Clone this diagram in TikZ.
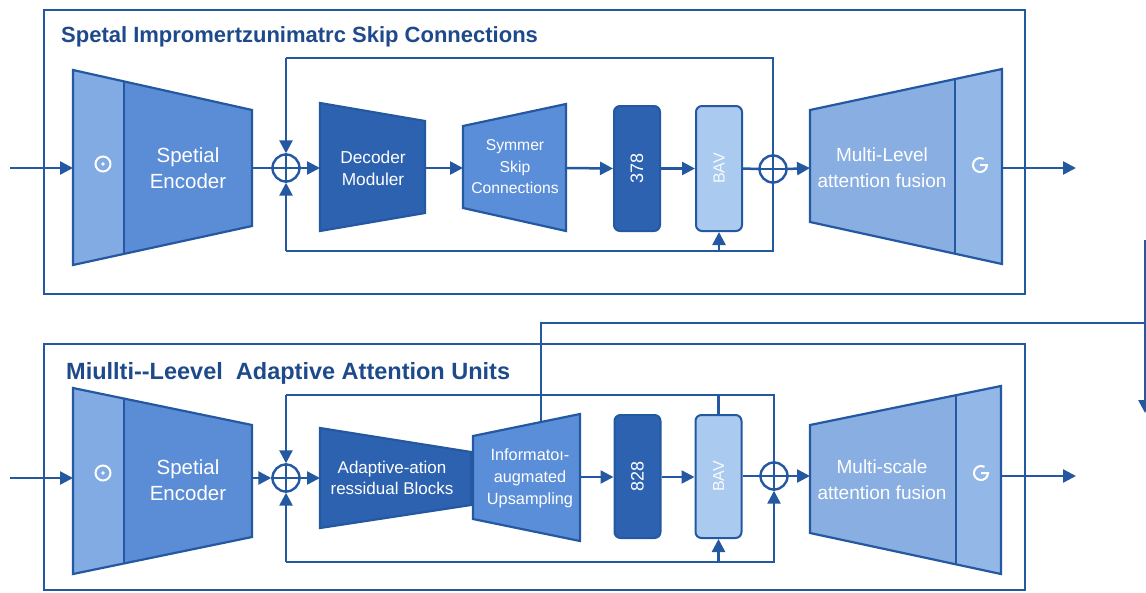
\documentclass[tikz,border=0pt]{standalone}
\usepackage{fontspec}
\setmainfont{Liberation Sans}
\usetikzlibrary{arrows.meta,calc}
\definecolor{ln}{HTML}{2458A0}
\definecolor{ttl}{HTML}{1E4A8C}
\definecolor{encM}{HTML}{5B8DD6}
\definecolor{encS}{HTML}{82AAE3}
\definecolor{dark}{HTML}{2D62B1}
\definecolor{mid}{HTML}{5A8ED8}
\definecolor{fus}{HTML}{88AEE2}
\definecolor{fusS}{HTML}{93B8E8}
\definecolor{light}{HTML}{AACAEF}
\tikzset{
  conn/.style={draw=ln, line width=2.5pt},
  arr/.style={conn, -{Triangle[length=13pt,width=13pt]}},
  shp/.style={draw=ln, line width=2.2pt, line join=miter},
  lbl/.style={text=white, align=center, inner sep=0pt},
  sumnode/.style={circle, draw=ln, line width=2.4pt, minimum size=27pt, inner sep=0pt},
  blk/.style={rounded corners=6pt, draw=ln, line width=2pt, minimum width=46pt, minimum height=125pt, inner sep=0pt},
  frame/.style={draw=ln, line width=2.2pt},
  ttlnode/.style={text=ttl, font=\bfseries\fontsize{22}{24}\selectfont, anchor=west, inner sep=0pt},
  icon/.style={draw=white, line width=2pt},
}
\begin{document}
\begin{tikzpicture}[x=1pt,y=-1pt]
\useasboundingbox[fill=white] (0,0) rectangle (1146,592);

% ================= frames =================
\draw[frame] (44,10) rectangle (1025,294);
\draw[frame] (44,344) rectangle (1025,590);
\node[ttlnode] (t1) at (61,37) {Spetal Impromertzunimatrc Skip Connections};
\node[ttlnode, font=\bfseries\fontsize{23.5}{26}\selectfont] (t2) at (66,373) {Miullti-{}-Leevel\ \ Adaptive Attention Units};

% ================= TOP ROW =================
\coordinate (e1a) at (73,70);  \coordinate (e1b) at (252,110);
\coordinate (e1c) at (252,226); \coordinate (e1d) at (73,265);
\fill[encS] (e1a) -- ($(e1a)!0.285!(e1b)$) -- ($(e1d)!0.285!(e1c)$) -- (e1d) -- cycle;
\fill[encM] ($(e1a)!0.285!(e1b)$) -- (e1b) -- (e1c) -- ($(e1d)!0.285!(e1c)$) -- cycle;
\draw[shp] (e1a) -- (e1b) -- (e1c) -- (e1d) -- cycle;
\draw[ln, line width=1.6pt] ($(e1a)!0.285!(e1b)$) -- ($(e1d)!0.285!(e1c)$);
\draw[icon] (103,164) circle (7.5);
\fill[white] (103,164) circle (1.8);
\node[lbl, font=\fontsize{20.5}{26}\selectfont] (enc1) at (188,168) {Spetial\\Encoder};
\coordinate (enc1W) at (73,168);
\coordinate (enc1E) at (252,168);

\draw[shp, fill=dark] (320,103) -- (425,121) -- (425,213) -- (320,231) -- cycle;
\node[lbl, font=\fontsize{17.3}{22}\selectfont] (dec1) at (373,168) {Decoder\\Moduler};
\coordinate (dec1W) at (320,168); \coordinate (dec1E) at (425,168);

\draw[shp, fill=mid] (463,126) -- (566,104) -- (566,231) -- (463,208) -- cycle;
\node[lbl, font=\fontsize{15.7}{21.5}\selectfont] (sym1) at (515,167) {Symmer\\Skip\\Connections};
\coordinate (sym1W) at (463,168); \coordinate (sym1E) at (566,168);

\node[blk, fill=dark] (b1) at (637,168.5) {};
\node[lbl, rotate=90, font=\fontsize{18}{20}\selectfont] at (b1) {378};
\node[blk, fill=light] (v1) at (719,168.5) {};
\node[lbl, rotate=90, text=white!92!light, font=\fontsize{16}{18}\selectfont] at (v1) {BAV};

\node[sumnode] (s1) at (286,168) {};
\node[sumnode] (s2) at (773,169) {};
\draw[conn] (s1.north) -- (s1.south) (s1.west) -- (s1.east);
\draw[conn] (s2.north) -- (s2.south) (s2.west) -- (s2.east);

\coordinate (f1a) at (810,110);  \coordinate (f1b) at (1002,69);
\coordinate (f1c) at (1002,264); \coordinate (f1d) at (810,222);
\fill[fus] (f1a) -- ($(f1a)!0.755!(f1b)$) -- ($(f1d)!0.755!(f1c)$) -- (f1d) -- cycle;
\fill[fusS] ($(f1a)!0.755!(f1b)$) -- (f1b) -- (f1c) -- ($(f1d)!0.755!(f1c)$) -- cycle;
\draw[shp] (f1a) -- (f1b) -- (f1c) -- (f1d) -- cycle;
\draw[ln, line width=1.6pt] ($(f1a)!0.755!(f1b)$) -- ($(f1d)!0.755!(f1c)$);
\draw[icon] (980,165) ++(-60:7) arc[start angle=-60, end angle=-360, radius=7] -- (980,165);
\node[lbl, font=\fontsize{19}{26}\selectfont] (fu1) at (882,168) {Multi-Level\\attention fusion};
\coordinate (fu1W) at (810,168); \coordinate (fu1E) at (1002,168);

\coordinate (in1) at (10,168);
\coordinate (out1) at (1076,168);
\coordinate (lt1) at (286,58);
\coordinate (lb1) at (286,251);
\draw[arr] (in1) -- (enc1W);
\draw[conn] (enc1E) -- (s1.west);
\draw[arr] (s1.east) -- (dec1W);
\draw[arr] (dec1E) -- (sym1W);
\draw[arr] (sym1E) -- (b1.west);
\draw[arr] (b1.east) -- (v1.west);
\draw[conn] (v1.east) -- (s2.west);
\draw[arr] (s2.east) -- (fu1W);
\draw[arr] (fu1E) -- (out1);
\draw[arr] (lt1) -- (s1.north);
\draw[arr] (lb1) -- (s1.south);
\draw[conn] (lt1) -| (s2.north);
\draw[conn] (lb1) -| (s2.south);
\draw[arr] (v1.south |- lb1) -- (v1.south);

% ================= BOTTOM ROW =================
\coordinate (e2a) at (73,388);  \coordinate (e2b) at (252,425);
\coordinate (e2c) at (252,537); \coordinate (e2d) at (73,574);
\fill[encS] (e2a) -- ($(e2a)!0.285!(e2b)$) -- ($(e2d)!0.285!(e2c)$) -- (e2d) -- cycle;
\fill[encM] ($(e2a)!0.285!(e2b)$) -- (e2b) -- (e2c) -- ($(e2d)!0.285!(e2c)$) -- cycle;
\draw[shp] (e2a) -- (e2b) -- (e2c) -- (e2d) -- cycle;
\draw[ln, line width=1.6pt] ($(e2a)!0.285!(e2b)$) -- ($(e2d)!0.285!(e2c)$);
\draw[icon] (103,473) circle (7.5);
\fill[white] (103,473) circle (1.8);
\node[lbl, font=\fontsize{20.5}{26}\selectfont] (enc2) at (188,480) {Spetial\\Encoder};
\coordinate (enc2W) at (73,478);
\coordinate (enc2E) at (252,478);

\draw[shp, fill=dark] (320,428) -- (471,452) -- (471,505) -- (320,528) -- cycle;
\node[lbl, font=\fontsize{17}{20.5}\selectfont] (ada) at (392,478) {Adaptive-ation\\ressidual Blocks};
\coordinate (adaW) at (320,478); \coordinate (adaE) at (471,478);

\draw[shp, fill=mid] (473,436) -- (580,414) -- (580,541) -- (473,519) -- cycle;
\node[lbl, font=\fontsize{16.3}{22}\selectfont] (inf) at (530,478) {Informatoı-\\augmated\\Upsampling};
\coordinate (infE) at (580,477);
\coordinate (infT) at (541,422);

\node[blk, fill=dark, minimum height=123pt] (b2) at (637.5,476.5) {};
\node[lbl, rotate=90, font=\fontsize{18}{20}\selectfont] at (b2) {828};
\node[blk, fill=light, minimum height=123pt] (v2) at (718.5,476.5) {};
\node[lbl, rotate=90, text=white!92!light, font=\fontsize{16}{18}\selectfont] at (v2) {BAV};

\node[sumnode] (s3) at (286,478) {};
\node[sumnode] (s4) at (774,476) {};
\draw[conn] (s3.north) -- (s3.south) (s3.west) -- (s3.east);
\draw[conn] (s4.north) -- (s4.south) (s4.west) -- (s4.east);

\coordinate (f2a) at (810,425);  \coordinate (f2b) at (1001,386);
\coordinate (f2c) at (1001,574); \coordinate (f2d) at (810,533);
\fill[fus] (f2a) -- ($(f2a)!0.764!(f2b)$) -- ($(f2d)!0.764!(f2c)$) -- (f2d) -- cycle;
\fill[fusS] ($(f2a)!0.764!(f2b)$) -- (f2b) -- (f2c) -- ($(f2d)!0.764!(f2c)$) -- cycle;
\draw[shp] (f2a) -- (f2b) -- (f2c) -- (f2d) -- cycle;
\draw[ln, line width=1.6pt] ($(f2a)!0.764!(f2b)$) -- ($(f2d)!0.764!(f2c)$);
\draw[icon] (981,473) ++(-60:7) arc[start angle=-60, end angle=-360, radius=7] -- (981,473);
\node[lbl, font=\fontsize{19}{26}\selectfont] (fu2) at (882,480) {Multi-scale\\attention fusion};
\coordinate (fu2W) at (810,476); \coordinate (fu2E) at (1001,476);

\coordinate (in2) at (10,478);
\coordinate (out2) at (1076,476);
\coordinate (lt2) at (286,395);
\coordinate (lb2) at (286,562);
\draw[arr] (in2) -- (enc2W);
\draw[arr] (enc2E) -- (s3.west);
\draw[arr] (s3.east) -- (adaW);
\draw[arr] (infE) -- (b2.west |- infE);
\draw[arr] (b2.east |- infE) -- (v2.west |- infE);
\draw[conn] (v2.east |- s4) -- (s4.west);
\draw[arr] (s4.east) -- (fu2W);
\draw[arr] (fu2E) -- (out2);
\draw[arr] (lt2) -- (s3.north);
\draw[arr] (lb2) -- (s3.south);
\draw[conn] (lt2) -| (s4.north);
\draw[arr] (lb2) -| (s4.south);
\draw[arr] (v2.south |- lb2) -- (v2.south);
\draw[conn] (v2.north) -- (v2.north |- lt2);

% right-hand connector
\coordinate (rc1) at (541,323);
\coordinate (rc2) at (1145,323);
\coordinate (rc0) at (1145,240);
\coordinate (rc3) at (1145,413);
\draw[conn] (infT) -- (rc1) -- (rc2);
\draw[conn] (rc0) -- (rc2);
\draw[arr] (rc2) -- (rc3);
\end{tikzpicture}
\end{document}
